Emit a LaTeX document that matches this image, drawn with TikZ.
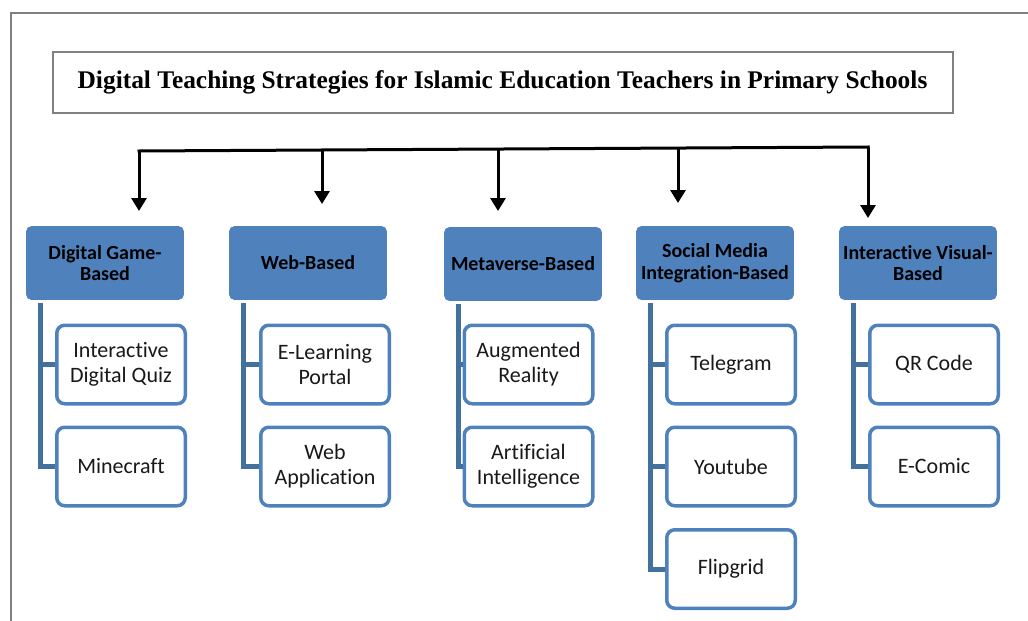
\documentclass[tikz,border=0pt]{standalone}
\usepackage{fontspec}
\usetikzlibrary{arrows.meta}
\newfontfamily\carlito[Ligatures={NoCommon}]{Carlito}
\newfontfamily\titleserif{Liberation Serif}
\definecolor{catblue}{HTML}{4F81BD}
\definecolor{branchblue}{HTML}{41719C}
\definecolor{framegray}{HTML}{808080}
% break the Carlito ligatures inside a word
\newcommand{\nolig}{\kern0pt}
\begin{document}
\begin{tikzpicture}[x=1pt,y=-1pt,
  cat/.style={rounded corners=5pt, fill=catblue, draw=catblue, line width=0.8pt,
    minimum width=157pt, minimum height=73pt, inner sep=0pt, align=center,
    font=\carlito\bfseries\fontsize{20}{21.5}\selectfont, text=black},
  leaf/.style={rounded corners=8pt, draw=catblue, line width=3.5pt, fill=white,
    minimum width=128.5pt, minimum height=78.5pt, inner sep=0pt, align=center,
    font=\carlito\fontsize{22}{25}\selectfont, text=black!90},
  branch/.style={draw=branchblue, line width=5pt},
  busline/.style={line width=3pt, line cap=rect},
  drop/.style={line width=3pt, -{Triangle[width=15pt,length=13pt]}}
]
\useasboundingbox (0,0) rectangle (1028,621);

% page frame
\draw[framegray, line width=2.5pt] (11,621) -- (11,13) -- (1028,13);

% title
\node[draw=framegray, line width=2pt, minimum width=900pt, minimum height=61pt,
  inner sep=0pt, font=\titleserif\bfseries\fontsize{25.4}{28}\selectfont]
  (title) at (502.5,82.5)
  {\raisebox{2pt}{Digital Teaching Strategies for Islamic Education Teachers in Primary Schools}};

% strategy categories
\node[cat] (h1) at (105,263) {Digital Game-\\Based};
\node[cat] (h2) at (308,263) {Web-Based};
\node[cat] (h3) at (523,264) {Metaverse-Based};
\node[cat] (h4) at (715,263) {Social Media\\Integrat\nolig ion-Based};
\node[cat] (h5) at (918,263) {Interact\nolig ive Visual-\\Based};

% distribution bus
\coordinate (d1) at (139,151);
\coordinate (d2) at (322,150);
\coordinate (d3) at (498,149);
\coordinate (d4) at (678,148);
\coordinate (d5) at (868,147);
\draw[busline] (d1) -- (d5);
\draw[drop] (d1) -- (d1 |- 0,211);
\draw[drop] (d2) -- (d2 |- 0,204);
\draw[drop] (d3) -- (d3 |- 0,211);
\draw[drop] (d4) -- (d4 |- 0,203);
\draw[drop] (d5) -- (d5 |- 0,218);

% tools under each category
\node[leaf] (l11) at (121,364.5) {Interact\nolig ive\\Digital Quiz};
\node[leaf] (l12) at (121,466.5) {Minecraf\nolig t};
\node[leaf] (l21) at (325,364.5) {E-Learning\\Portal};
\node[leaf] (l22) at (325,466.5) {Web\\Applicat\nolig ion};
\node[leaf] (l31) at (528.5,364.5) {Augmented\\Reality};
\node[leaf] (l32) at (528.5,466.5) {Art\nolig if\nolig icial\\Intelligence};
\node[leaf] (l41) at (731,364.5) {Telegram};
\node[leaf] (l42) at (731,466.5) {Youtube};
\node[leaf] (l43) at (731,569) {Flipgrid};
\node[leaf] (l51) at (934,364.5) {QR Code};
\node[leaf] (l52) at (934,466.5) {E-Comic};

% branch brackets joining each category to its tools
\draw[branch] ([shift={(14pt,-3pt)}]h1.south west) |- (l12.west);
\draw[branch] ([xshift=14pt]h1.south west |- l11.west) -- (l11.west);
\draw[branch] ([shift={(14pt,-3pt)}]h2.south west) |- (l22.west);
\draw[branch] ([xshift=14pt]h2.south west |- l21.west) -- (l21.west);
\draw[branch] ([shift={(14pt,-3pt)}]h3.south west) |- (l32.west);
\draw[branch] ([xshift=14pt]h3.south west |- l31.west) -- (l31.west);
\draw[branch] ([shift={(14pt,-3pt)}]h4.south west) |- (l43.west);
\draw[branch] ([xshift=14pt]h4.south west |- l41.west) -- (l41.west);
\draw[branch] ([xshift=14pt]h4.south west |- l42.west) -- (l42.west);
\draw[branch] ([shift={(14pt,-3pt)}]h5.south west) |- (l52.west);
\draw[branch] ([xshift=14pt]h5.south west |- l51.west) -- (l51.west);
\end{tikzpicture}
\end{document}
